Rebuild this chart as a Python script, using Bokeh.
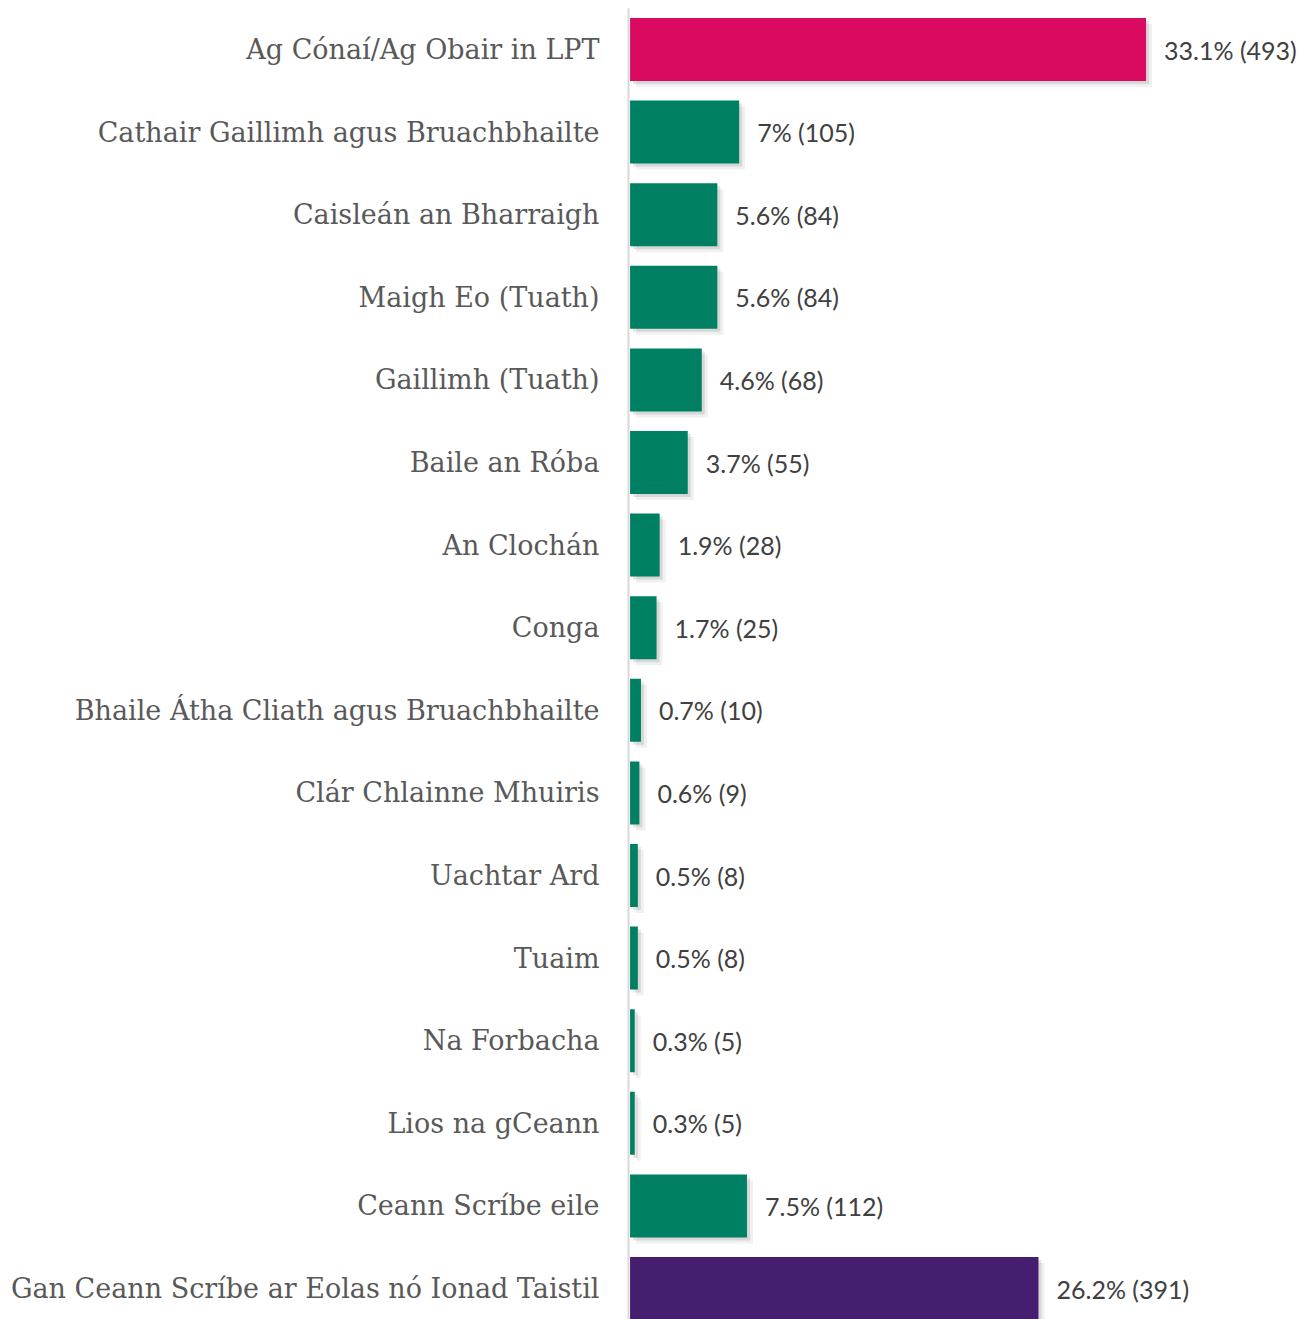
from bokeh.plotting import figure
from bokeh.models import ColumnDataSource, Range1d, FixedTicker
from bokeh.core.properties import value
from bokeh.embed import file_html
from bokeh.resources import INLINE

categories = [
    "Ag Cónaí/Ag Obair in LPT",
    "Cathair Gaillimh agus Bruachbhailte",
    "Caisleán an Bharraigh",
    "Maigh Eo (Tuath)",
    "Gaillimh (Tuath)",
    "Baile an Róba",
    "An Clochán",
    "Conga",
    "Bhaile Átha Cliath agus Bruachbhailte",
    "Clár Chlainne Mhuiris",
    "Uachtar Ard",
    "Tuaim",
    "Na Forbacha",
    "Lios na gCeann",
    "Ceann Scríbe eile",
    "Gan Ceann Scríbe ar Eolas nó Ionad Taistil",
]
percents = [33.1, 7, 5.6, 5.6, 4.6, 3.7, 1.9, 1.7, 0.7, 0.6, 0.5, 0.5, 0.3, 0.3, 7.5, 26.2]
counts = [493, 105, 84, 84, 68, 55, 28, 25, 10, 9, 8, 8, 5, 5, 112, 391]
groups = ["pink"] + ["green"] * 14 + ["purple"]

palette = {"pink": "#D90A60", "green": "#008063", "purple": "#461E70"}

W, H = 1303, 1319
FRAME_LEFT = 628
X_END = 43.2
pitch = 82.6
first_center = 49
n = len(categories)
top_pad = first_center / pitch
bottom = (n - 1) + (H - first_center - (n - 1) * pitch) / pitch

pos = list(range(n))
px_per_x = (W - FRAME_LEFT) / (X_END + 0.1)

src = ColumnDataSource(dict(
    y=pos,
    v=percents,
    color=[palette[g] for g in groups],
    label=[f"{p:g}% ({c})" for p, c in zip(percents, counts)],
    sy1=[y + 3 / pitch for y in pos],
    sr1=[v + 3 / px_per_x for v in percents],
    sy2=[y + 6 / pitch for y in pos],
    sr2=[v + 6 / px_per_x for v in percents],
))

p = figure(width=W, height=H, output_backend="svg", toolbar_location=None,
           x_range=Range1d(-0.1, X_END),
           y_range=Range1d(bottom, -top_pad + 8 / pitch),
           min_border_left=FRAME_LEFT, min_border_right=0,
           min_border_top=8, min_border_bottom=0)
p.outline_line_color = None
p.xgrid.visible = False
p.ygrid.visible = False
p.xaxis.visible = False
p.background_fill_color = "white"
p.border_fill_color = "white"

bh = 63 / pitch
# soft shadow
p.hbar(y="sy2", left=6 / px_per_x, right="sr2", height=bh, source=src,
       fill_color="#000000", fill_alpha=0.06, line_color=None)
p.hbar(y="sy1", left=3 / px_per_x, right="sr1", height=bh, source=src,
       fill_color="#000000", fill_alpha=0.10, line_color=None)
p.hbar(y="y", left=0, right="v", height=bh, source=src,
       fill_color="color", line_color=None)

p.text(x="v", y="y", text="label", source=src, x_offset=18,
       text_baseline="middle", text_align="left",
       text_font=value("Lato"), text_font_size="25px", text_color="#404040")

ax = p.yaxis[0]
ax.ticker = FixedTicker(ticks=pos)
ax.major_label_overrides = {i: c for i, c in zip(pos, categories)}
ax.major_tick_line_color = None
ax.minor_tick_line_color = None
ax.major_tick_out = 0
ax.major_tick_in = 0
ax.axis_line_color = "#D9D9D9"
ax.axis_line_width = 2
ax.major_label_standoff = 29
ax.major_label_text_font = "DejaVu Serif"
ax.major_label_text_font_size = "27px"
ax.major_label_text_color = "#595959"

open("out.html", "w").write(file_html(p, INLINE))
